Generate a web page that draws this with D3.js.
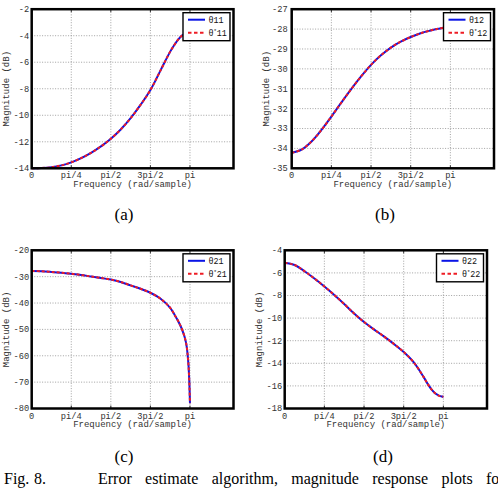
<!DOCTYPE html>
<html>
<head>
<meta charset="utf-8">
<script src="https://cdnjs.cloudflare.com/ajax/libs/d3/7.8.5/d3.min.js"></script>
<style>
  body { margin: 0; background: #fff; }
  .tick-label { font-family: "Liberation Mono", monospace; font-size: 8.7px; fill: #333; }
  .axis-label { font-family: "Liberation Mono", monospace; font-size: 9px; fill: #333; }
  .legend-text { font-family: "Liberation Mono", monospace; font-size: 8.4px; fill: #111; }
  .caption { font-family: "Liberation Serif", "Times New Roman", serif; font-size: 17px; fill: #000; }
  .fig-cap { font-family: "Liberation Serif", "Times New Roman", serif; font-size: 16px; fill: #000; }
</style>
</head>
<body>
<div id="fig"></div>
<script>
(function() {
  // frequency as a fraction of pi
  const freq = [0, 0.0625, 0.125, 0.1875, 0.25, 0.3125, 0.375, 0.4375, 0.5, 0.5625, 0.625,
    0.6875, 0.75, 0.8125, 0.875, 0.9, 0.925, 0.95, 0.975, 0.99, 1];

  const mag11 = [-14, -13.98, -13.92, -13.78, -13.55, -13.23, -12.83, -12.35, -11.77, -11.07, -10.22,
    -9.22, -8.1, -6.65, -5.2, -4.72, -4.3, -3.98, -3.78, -3.7, -3.67];
  const mag11Est = [-14, -13.98, -13.92, -13.78, -13.55, -13.23, -12.83, -12.35, -11.77, -11.07, -10.22,
    -9.22, -8.1, -6.65, -5.2, -4.72, -4.3, -3.98, -3.78, -3.7, -3.67];

  const mag12 = [-34.22, -34.06, -33.65, -33.07, -32.4, -31.7, -31.02, -30.38, -29.8, -29.32, -28.93,
    -28.63, -28.4, -28.21, -28.07, -28.02, -27.98, -27.94, -27.91, -27.9, -27.89];
  const mag12Est = [-34.22, -34.06, -33.65, -33.07, -32.4, -31.7, -31.02, -30.38, -29.8, -29.32, -28.93,
    -28.63, -28.4, -28.21, -28.07, -28.02, -27.98, -27.94, -27.91, -27.9, -27.89];

  const mag21 = [-27.85, -27.95, -28.2, -28.5, -28.9, -29.35, -29.95, -30.5, -31.1, -32.0, -33.3,
    -34.6, -36.1, -38.3, -41.8, -44.2, -46.8, -50.0, -55.0, -63.0, -78.0];
  const mag21Est = [-27.85, -27.95, -28.2, -28.5, -28.9, -29.35, -29.95, -30.5, -31.1, -32.0, -33.3,
    -34.6, -36.1, -38.3, -41.8, -44.2, -46.8, -50.0, -55.0, -63.0, -78.0];

  const mag22 = [-5.1, -5.3, -5.85, -6.5, -7.2, -7.95, -8.75, -9.6, -10.35, -11.0, -11.62,
    -12.28, -13.0, -13.9, -15.2, -15.8, -16.3, -16.68, -16.88, -16.94, -16.96];
  const mag22Est = [-5.1, -5.3, -5.85, -6.5, -7.2, -7.95, -8.75, -9.6, -10.35, -11.0, -11.62,
    -12.28, -13.0, -13.9, -15.2, -15.8, -16.3, -16.68, -16.88, -16.94, -16.96];

  const xTickValues = [0, 0.25, 0.5, 0.75, 1];
  const xTickLabels = ["0", "pi/4", "pi/2", "3pi/2", "pi"];

  const yTicks11 = [-14, -12, -10, -8, -6, -4, -2];
  const yTicks12 = [-35, -34, -33, -32, -31, -30, -29, -28, -27];
  const yTicks21 = [-80, -70, -60, -50, -40, -30, -20];
  const yTicks22 = [-18, -16, -14, -12, -10, -8, -6, -4];

  const width = 498;
  const height = 496;

  const svg = d3.select("#fig")
    .append("svg")
      .attr("width", width)
      .attr("height", height);

  const panels = [
    { idx: "11", box: [31.7, 9.2, 233.5, 168.3], dom: [-14, -2], ticks: yTicks11, a: mag11, b: mag11Est, cap: "(a)", capX: 124, capY: 220, gap: 2.5 },
    { idx: "12", box: [291.7, 9.2, 494, 168.3], dom: [-35, -27], ticks: yTicks12, a: mag12, b: mag12Est, cap: "(b)", capX: 385, capY: 220, gap: 4 },
    { idx: "21", box: [31.7, 250.3, 233.5, 408.5], dom: [-80, -20], ticks: yTicks21, a: mag21, b: mag21Est, cap: "(c)", capX: 124, capY: 462, gap: 2.5 },
    { idx: "22", box: [284.7, 250.3, 487, 408.5], dom: [-18, -4], ticks: yTicks22, a: mag22, b: mag22Est, cap: "(d)", capX: 383, capY: 462, gap: 2.5 }
  ];

  panels.forEach(drawPanel);

  function drawPanel(p) {
    const [x0, y0, x1, y1] = p.box;
    const g = svg.append("g");

    // x axis runs a bit past pi, like the original
    const x = d3.scaleLinear().domain([0, 1.275]).range([x0, x1]);
    const y = d3.scaleLinear().domain(p.dom).range([y1, y0]);

    // dotted grid
    g.selectAll(".gx")
      .data(xTickValues.slice(1))
      .enter().append("line")
        .attr("x1", d => x(d)).attr("x2", d => x(d))
        .attr("y1", y0).attr("y2", y1)
        .attr("stroke", "#8a8a8a")
        .attr("stroke-width", 0.8)
        .attr("stroke-dasharray", "1,1.6");

    g.selectAll(".gy")
      .data(p.ticks.slice(1, -1))
      .enter().append("line")
        .attr("x1", x0).attr("x2", x1)
        .attr("y1", d => y(d)).attr("y2", d => y(d))
        .attr("stroke", "#8a8a8a")
        .attr("stroke-width", 0.8)
        .attr("stroke-dasharray", "1,1.6");

    // small inward ticks
    xTickValues.forEach(d => {
      g.append("line").attr("x1", x(d)).attr("x2", x(d)).attr("y1", y1).attr("y2", y1 - 3).attr("stroke", "#000").attr("stroke-width", 0.8);
      g.append("line").attr("x1", x(d)).attr("x2", x(d)).attr("y1", y0).attr("y2", y0 + 3).attr("stroke", "#000").attr("stroke-width", 0.8);
    });

    // curves
    const line = d3.line()
      .x((d, i) => x(freq[i]))
      .y(d => y(d))
      .curve(d3.curveCatmullRom.alpha(0.5));

    g.append("path")
      .attr("d", line(p.a))
      .attr("fill", "none")
      .attr("stroke", "#0a14e6")
      .attr("stroke-width", 2);

    g.append("path")
      .attr("d", line(p.b))
      .attr("fill", "none")
      .attr("stroke", "#ee1c24")
      .attr("stroke-width", 2)
      .attr("stroke-dasharray", "3,2");

    // frame
    g.append("rect")
      .attr("x", x0).attr("y", y0)
      .attr("width", x1 - x0).attr("height", y1 - y0)
      .attr("fill", "none")
      .attr("stroke", "#000")
      .attr("stroke-width", 2.5);

    // tick labels
    g.selectAll(".xl")
      .data(xTickValues)
      .enter().append("text")
        .attr("class", "tick-label")
        .attr("x", d => x(d))
        .attr("y", y1 + 10)
        .attr("text-anchor", "middle")
        .text((d, i) => xTickLabels[i]);

    g.selectAll(".yl")
      .data(p.ticks)
      .enter().append("text")
        .attr("class", "tick-label")
        .attr("x", x0 - p.gap)
        .attr("y", d => y(d))
        .attr("dy", "0.33em")
        .attr("text-anchor", "end")
        .text(d => d);

    g.append("text")
      .attr("class", "axis-label")
      .attr("x", (x0 + x1) / 2)
      .attr("y", y1 + 18.5)
      .attr("text-anchor", "middle")
      .text("Frequency (rad/sample)");

    g.append("text")
      .attr("class", "axis-label")
      .attr("transform", `translate(${x0 - 22.5}, ${(y0 + y1) / 2}) rotate(-90)`)
      .attr("text-anchor", "middle")
      .text("Magnitude (dB)");

    // legend
    const lw = 47, lh = 28;
    const lg = g.append("g")
      .attr("transform", `translate(${x1 - 3.5 - lw}, ${y0 + 3.5})`);

    lg.append("rect")
      .attr("width", lw).attr("height", lh)
      .attr("fill", "#fff")
      .attr("stroke", "#000")
      .attr("stroke-width", 1.4);

    lg.append("line")
      .attr("x1", 5).attr("x2", 22).attr("y1", 7).attr("y2", 7)
      .attr("stroke", "#0a14e6").attr("stroke-width", 2);
    lg.append("line")
      .attr("x1", 5).attr("x2", 22).attr("y1", 20).attr("y2", 20)
      .attr("stroke", "#ee1c24").attr("stroke-width", 2)
      .attr("stroke-dasharray", "3.5,2.5");

    lg.append("text")
      .attr("class", "legend-text")
      .attr("x", 25.5).attr("y", 10)
      .text("θ" + p.idx);

    const t2 = lg.append("text")
      .attr("class", "legend-text")
      .attr("x", 25.5).attr("y", 23);
    t2.append("tspan").text("θ");
    t2.append("tspan").attr("dy", -3).style("font-size", "5.5px").text("*");
    t2.append("tspan").attr("dy", 3).text(p.idx);

    // sub-figure caption
    svg.append("text")
      .attr("class", "caption")
      .attr("x", p.capX)
      .attr("y", p.capY)
      .attr("text-anchor", "middle")
      .text(p.cap);
  }

  // figure caption: "Fig. 8." then justified words, line runs past the right edge
  svg.append("text").attr("class", "fig-cap").attr("x", 4).attr("y", 484).text("Fig.");
  svg.append("text").attr("class", "fig-cap").attr("x", 34).attr("y", 484).text("8.");

  const captionWords = ["Error", "estimate", "algorithm,", "magnitude", "response", "plots", "for"];
  const words = svg.selectAll(".cw")
    .data(captionWords)
    .enter().append("text")
      .attr("class", "fig-cap")
      .attr("y", 484)
      .text(d => d);

  const widths = [];
  words.each(function() { widths.push(this.getComputedTextLength()); });
  const startX = 98, lastX = 486;
  const used = d3.sum(widths.slice(0, -1));
  const space = (lastX - startX - used) / (captionWords.length - 1);
  let cx = startX;
  words.attr("x", (d, i) => {
    const pos = cx;
    cx += widths[i] + space;
    return pos;
  });
})();
</script>
</body>
</html>
